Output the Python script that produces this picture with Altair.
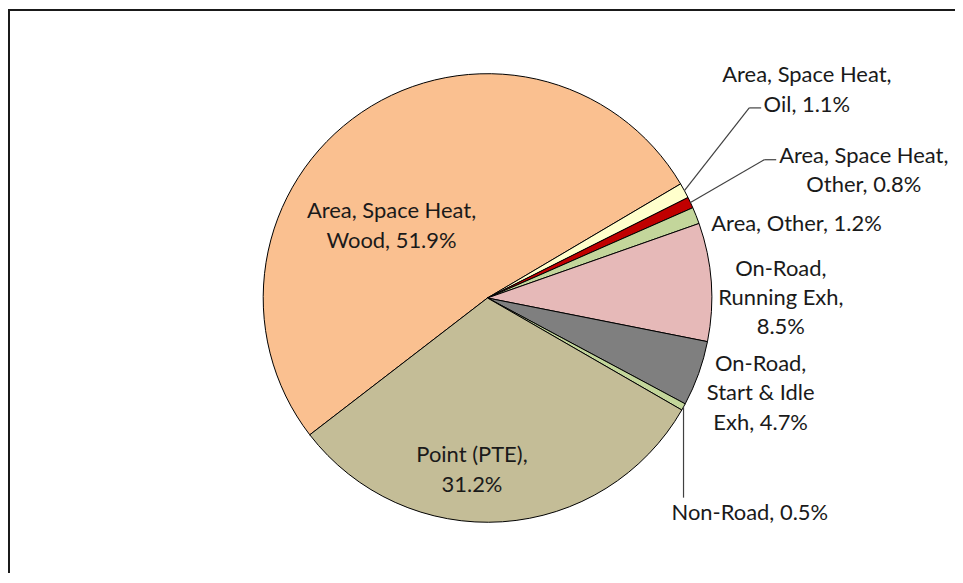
import math
import altair as alt
import pandas as pd

# ---- data ----
categories = [
    "Area, Space Heat, Wood",
    "Area, Space Heat, Oil",
    "Area, Space Heat, Other",
    "Area, Other",
    "On-Road, Running Exh",
    "On-Road, Start & Idle Exh",
    "Non-Road",
    "Point (PTE)",
]
values = [51.9, 1.1, 0.8, 1.2, 8.5, 4.7, 0.5, 31.2]
label_templates = [
    "Area, Space Heat,\nWood, {:.1f}%",
    "Area, Space Heat,\nOil, {:.1f}%",
    "Area, Space Heat,\nOther, {:.1f}%",
    "Area, Other, {:.1f}%",
    "On-Road,\nRunning Exh,\n{:.1f}%",
    "On-Road,\nStart & Idle\nExh, {:.1f}%",
    "Non-Road, {:.1f}%",
    "Point (PTE),\n{:.1f}%",
]

# ---- styles ----
colors = ["#FAC090", "#FFFFCC", "#C00000", "#C3D69B",
          "#E6B9B8", "#7F7F7F", "#C3D69B", "#C4BD97"]

W, H = 950, 566
CX, CY = 481, 290          # pie centre inside the view
R = 225                    # pie radius
START = math.radians(232.4)
FONT = "Lato"
FS = 22
LH = 29.5
TEXT_COLOR = "#1a1a1a"

total = sum(values)
df = pd.DataFrame({
    "category": categories,
    "value": values,
    "idx": list(range(len(values))),
    "label": [t.format(v) for t, v in zip(label_templates, values)],
})
n_lines = {c: t.count("\n") + 1 for c, t in zip(categories, label_templates)}

theta_scale = alt.Scale(domain=[0, total], range=[START, START + 2 * math.pi])

base = alt.Chart(df).transform_window(
    cum="sum(value)", sort=[alt.SortField("idx")], frame=[None, 0]
).transform_calculate(
    mid="datum.cum - datum.value / 2",
    ang=f"{START} + 2 * PI * (datum.cum - datum.value / 2) / {total}",
)

pie = alt.Chart(df).mark_arc(radius=R, stroke="#000000", strokeWidth=1).encode(
    theta=alt.Theta("value:Q", stack=True, scale=theta_scale),
    color=alt.Color("category:N", scale=alt.Scale(domain=categories, range=colors), legend=None),
    order=alt.Order("idx:Q"),
    x=alt.value(CX),
    y=alt.value(CY),
)

# label layout: category -> (radius, dx, dy) for the centre of the text block
label_layout = {
    "Area, Space Heat, Wood": (120, -29, 27),
    "Area, Space Heat, Oil": (300, 57, -65),
    "Area, Space Heat, Other": (300, 106, 0),
    "Area, Other": (300, 31, 36),
    "On-Road, Running Exh": (294, 1, 21),
    "On-Road, Start & Idle Exh": (290, 1, -2),
    "Non-Road": (340, -34, 51),
    "Point (PTE)": (172, -27, 1),
}

texts = []
for cat, (rad, dx, dy) in label_layout.items():
    shift = -(n_lines[cat] - 1) / 2 * LH
    t = base.transform_filter(alt.datum.category == cat).mark_text(
        radius=rad, dx=dx, dy=dy + shift, font=FONT, fontSize=FS, color=TEXT_COLOR,
        align="center", baseline="middle", lineBreak="\n", lineHeight=LH,
    ).encode(
        theta=alt.Theta("mid:Q", stack=None, scale=theta_scale),
        text="label:N",
        x=alt.value(CX),
        y=alt.value(CY),
    )
    texts.append(t)

# leader lines: category -> (elbow dx, elbow dy, tail length)
leader_layout = {
    "Area, Space Heat, Oil": (65, -83, 12),
    "Area, Space Heat, Other": (74, -43, 12),
    "Non-Road": (0, 91, 0),
}
leaders = []
for cat, (ex, ey, tail) in leader_layout.items():
    lb = base.transform_filter(alt.datum.category == cat).transform_calculate(
        x0=f"{CX} + {R} * sin(datum.ang)",
        y0=f"{CY} - {R} * cos(datum.ang)",
    ).transform_calculate(
        x1=f"datum.x0 + {ex}",
        y1=f"datum.y0 + {ey}",
        x2=f"datum.x0 + {ex} + {tail}",
    )
    seg1 = lb.mark_rule(color="#404040", strokeWidth=1.2).encode(
        x=alt.X("x0:Q", scale=None, axis=None),
        y=alt.Y("y0:Q", scale=None, axis=None),
        x2="x1:Q",
        y2="y1:Q",
    )
    leaders.append(seg1)
    if tail:
        seg2 = lb.mark_rule(color="#404040", strokeWidth=1.2).encode(
            x=alt.X("x1:Q", scale=None, axis=None),
            y=alt.Y("y1:Q", scale=None, axis=None),
            x2="x2:Q",
        )
        leaders.append(seg2)

# chart frame (only left and top edges are visible in the crop)
frame_src = alt.Chart(pd.DataFrame({"k": [0]}))
frame_left = frame_src.mark_rule(color="#1a1a1a", strokeWidth=2).encode(
    x=alt.value(1), y=alt.value(0), y2=alt.value(H)
)
frame_top = frame_src.mark_rule(color="#1a1a1a", strokeWidth=2).encode(
    x=alt.value(0), x2=alt.value(W), y=alt.value(1)
)

chart = alt.layer(frame_left, frame_top, pie, *leaders, *texts).properties(
    width=W, height=H, padding=0,
    autosize=alt.AutoSizeParams(type="none"),
    background="white",
).configure_view(stroke=None)

chart.save("out.html", embed_options={"renderer": "svg", "actions": False})
